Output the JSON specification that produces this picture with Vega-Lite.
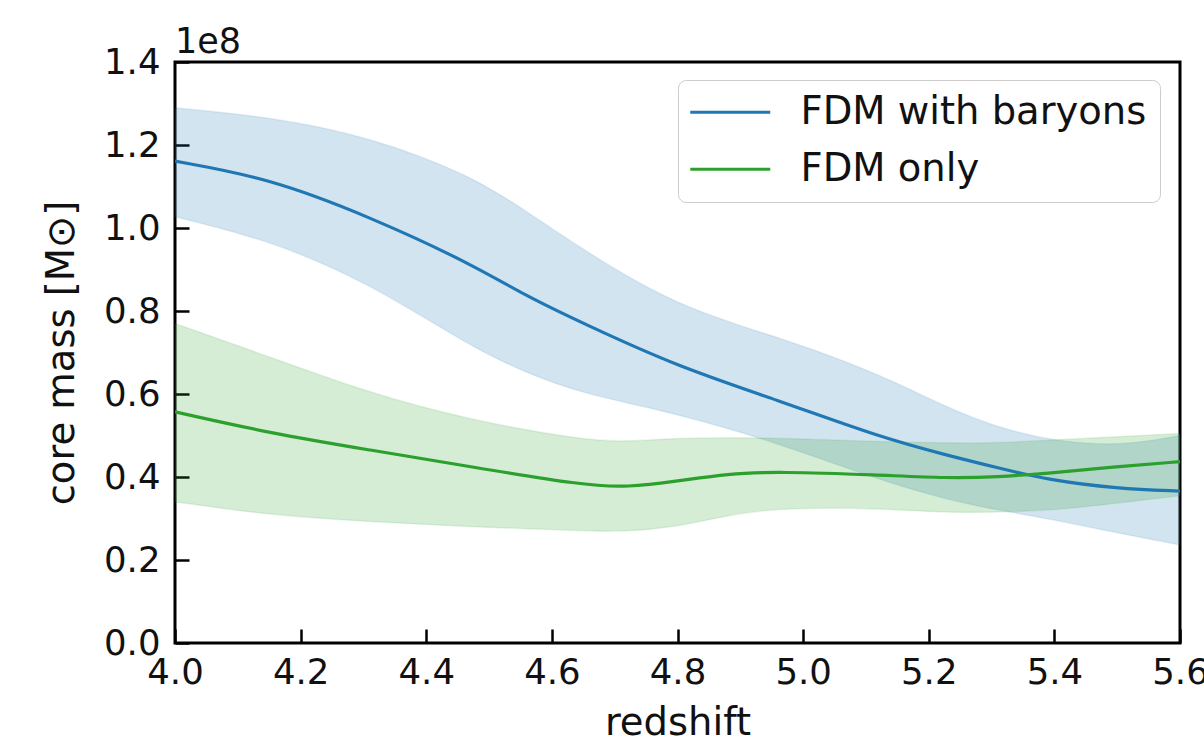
{
  "$schema": "https://vega.github.io/schema/vega-lite/v6.json",
  "width": 1005,
  "height": 581,
  "autosize": "none",
  "padding": {"left": 175, "top": 62, "right": 24, "bottom": 101},
  "background": "white",
  "title": {"text": "1e8", "anchor": "start", "frame": "group", "font": "DejaVu Sans", "fontSize": 35, "fontWeight": "normal", "color": "#111", "offset": 7, "dy": 22},
  "data": {"values": [
    {"z": 4.0, "series": "FDM with baryons", "m": 1.161, "lo": 1.027, "hi": 1.29},
    {"z": 4.15, "series": "FDM with baryons", "m": 1.12, "lo": 0.971, "hi": 1.268},
    {"z": 4.31, "series": "FDM with baryons", "m": 1.027, "lo": 0.867, "hi": 1.22},
    {"z": 4.47, "series": "FDM with baryons", "m": 0.915, "lo": 0.714, "hi": 1.128},
    {"z": 4.56, "series": "FDM with baryons", "m": 0.835, "lo": 0.65, "hi": 1.04},
    {"z": 4.65, "series": "FDM with baryons", "m": 0.77, "lo": 0.60, "hi": 0.947},
    {"z": 4.8, "series": "FDM with baryons", "m": 0.666, "lo": 0.553, "hi": 0.81},
    {"z": 4.96, "series": "FDM with baryons", "m": 0.585, "lo": 0.482, "hi": 0.738},
    {"z": 5.12, "series": "FDM with baryons", "m": 0.497, "lo": 0.393, "hi": 0.65},
    {"z": 5.23, "series": "FDM with baryons", "m": 0.452, "lo": 0.345, "hi": 0.566},
    {"z": 5.31, "series": "FDM with baryons", "m": 0.422, "lo": 0.32, "hi": 0.52},
    {"z": 5.39, "series": "FDM with baryons", "m": 0.393, "lo": 0.30, "hi": 0.489},
    {"z": 5.5, "series": "FDM with baryons", "m": 0.372, "lo": 0.265, "hi": 0.473},
    {"z": 5.6, "series": "FDM with baryons", "m": 0.366, "lo": 0.236, "hi": 0.50},
    {"z": 4.0, "series": "FDM only", "m": 0.557, "lo": 0.34, "hi": 0.77},
    {"z": 4.15, "series": "FDM only", "m": 0.506, "lo": 0.308, "hi": 0.69},
    {"z": 4.31, "series": "FDM only", "m": 0.465, "lo": 0.292, "hi": 0.602},
    {"z": 4.47, "series": "FDM only", "m": 0.425, "lo": 0.28, "hi": 0.537},
    {"z": 4.65, "series": "FDM only", "m": 0.38, "lo": 0.27, "hi": 0.489},
    {"z": 4.72, "series": "FDM only", "m": 0.375, "lo": 0.268, "hi": 0.485},
    {"z": 4.8, "series": "FDM only", "m": 0.39, "lo": 0.28, "hi": 0.494},
    {"z": 4.88, "series": "FDM only", "m": 0.408, "lo": 0.308, "hi": 0.495},
    {"z": 4.96, "series": "FDM only", "m": 0.413, "lo": 0.325, "hi": 0.494},
    {"z": 5.12, "series": "FDM only", "m": 0.405, "lo": 0.325, "hi": 0.485},
    {"z": 5.23, "series": "FDM only", "m": 0.397, "lo": 0.313, "hi": 0.482},
    {"z": 5.31, "series": "FDM only", "m": 0.40, "lo": 0.316, "hi": 0.482},
    {"z": 5.39, "series": "FDM only", "m": 0.409, "lo": 0.318, "hi": 0.489},
    {"z": 5.5, "series": "FDM only", "m": 0.425, "lo": 0.337, "hi": 0.497},
    {"z": 5.6, "series": "FDM only", "m": 0.437, "lo": 0.355, "hi": 0.505}
  ]},
  "encoding": {
    "x": {"field": "z", "type": "quantitative", "title": "redshift",
      "scale": {"domain": [4.0, 5.6], "nice": false, "zero": false},
      "axis": {"values": [4.0, 4.2, 4.4, 4.6, 4.8, 5.0, 5.2, 5.4, 5.6], "format": ".1f", "labelPadding": 26, "titlePadding": 14, "labelFlush": false}}
  },
  "layer": [
    {
      "mark": {"type": "area", "interpolate": "basis", "fillOpacity": 0.2, "strokeOpacity": 0.1, "strokeWidth": 1.5, "clip": true},
      "encoding": {
        "y": {"field": "hi", "type": "quantitative"},
        "y2": {"field": "lo"},
        "fill": {"field": "series", "type": "nominal", "scale": {"domain": ["FDM with baryons", "FDM only"], "range": ["#1f77b4", "#2ca02c"]}, "legend": null},
        "stroke": {"field": "series", "type": "nominal", "scale": {"domain": ["FDM with baryons", "FDM only"], "range": ["#1f77b4", "#2ca02c"]}, "legend": null}
      }
    },
    {
      "mark": {"type": "line", "interpolate": "basis", "strokeWidth": 3.2, "clip": true},
      "encoding": {
        "y": {"field": "m", "type": "quantitative", "title": "core mass [M⊙]",
          "scale": {"domain": [0, 1.4], "nice": false},
          "axis": {"values": [0, 0.2, 0.4, 0.6, 0.8, 1.0, 1.2, 1.4], "format": ".1f", "labelPadding": 29, "titlePadding": 22}},
        "color": {"field": "series", "type": "nominal", "scale": {"domain": ["FDM with baryons", "FDM only"], "range": ["#1f77b4", "#2ca02c"]},
          "legend": {"orient": "none", "legendX": 503, "legendY": 18, "title": null, "symbolType": "M-4,0H4", "symbolSize": 400, "symbolStrokeWidth": 3.2, "symbolOffset": 20,
            "labelFont": "DejaVu Sans", "labelFontSize": 38.5, "labelColor": "#111", "labelOffset": 51, "labelLimit": 0, "padding": 13, "rowPadding": 18,
            "fillColor": "white", "strokeColor": "#cccccc", "cornerRadius": 8}}
      }
    }
  ],
  "resolve": {"scale": {"fill": "independent", "stroke": "independent"}},
  "config": {
    "view": {"stroke": "black", "strokeWidth": 3},
    "axis": {"domain": false, "grid": false, "tickColor": "black", "tickWidth": 2.5, "tickSize": -14,
      "labelFont": "DejaVu Sans", "labelFontSize": 35.5, "labelColor": "#111",
      "titleFont": "DejaVu Sans", "titleFontSize": 38.5, "titleFontWeight": "normal", "titleColor": "#111"},
    "axisX": {"labelAngle": 0}
  }
}
